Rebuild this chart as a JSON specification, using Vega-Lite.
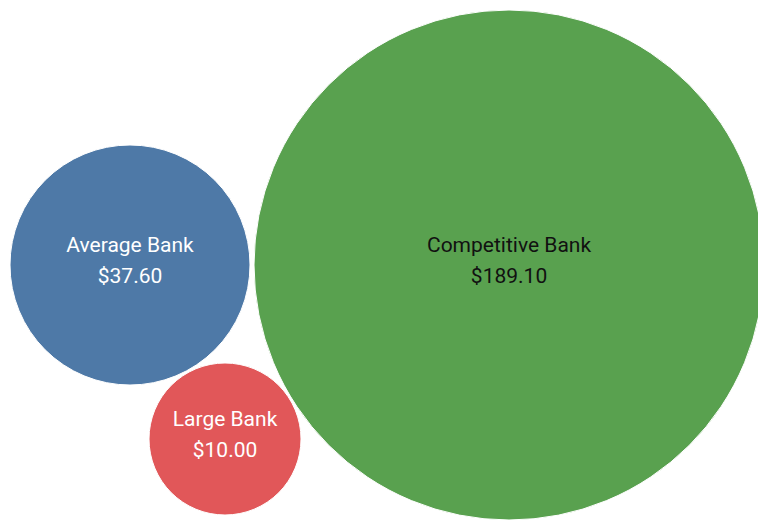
{
  "$schema": "https://vega.github.io/schema/vega-lite/v6.json",
  "width": 758,
  "height": 521,
  "autosize": {"type": "fit", "contains": "padding"},
  "padding": 0,
  "background": "white",
  "config": {"view": {"stroke": null}},
  "data": {
    "values": [
      {"bank": "Average Bank", "cost": 37.6},
      {"bank": "Large Bank", "cost": 10.0},
      {"bank": "Competitive Bank", "cost": 189.1}
    ]
  },
  "encoding": {
    "x": {"field": "cost", "type": "quantitative", "axis": null,
      "scale": {"type": "linear", "domain": [10, 37.6, 189.1], "range": [225, 130, 509], "zero": false, "nice": false}},
    "y": {"field": "cost", "type": "quantitative", "axis": null,
      "scale": {"type": "linear", "domain": [10, 37.6, 189.1], "range": [439, 265, 265], "zero": false, "nice": false}}
  },
  "layer": [
    {
      "mark": {"type": "circle", "opacity": 1, "stroke": "white", "strokeWidth": 1},
      "encoding": {
        "size": {"field": "cost", "type": "quantitative", "legend": null,
          "scale": {"type": "linear", "domain": [10, 37.6, 189.1], "range": [23104, 57600, 260100], "zero": false, "nice": false}},
        "color": {"field": "bank", "type": "nominal", "legend": null,
          "scale": {"domain": ["Average Bank", "Large Bank", "Competitive Bank"], "range": ["#4e79a7", "#e15759", "#59a14f"]}}
      }
    },
    {
      "mark": {"type": "text", "font": "Roboto", "fontSize": 21, "dy": -19, "align": "center", "baseline": "middle"},
      "encoding": {
        "text": {"field": "bank", "type": "nominal"},
        "color": {"condition": {"test": "datum.bank === 'Competitive Bank'", "value": "#111111"}, "value": "white"}
      }
    },
    {
      "mark": {"type": "text", "font": "Roboto", "fontSize": 21, "dy": 12, "align": "center", "baseline": "middle"},
      "encoding": {
        "text": {"field": "cost", "type": "quantitative", "format": "$.2f"},
        "color": {"condition": {"test": "datum.bank === 'Competitive Bank'", "value": "#111111"}, "value": "white"}
      }
    }
  ]
}
